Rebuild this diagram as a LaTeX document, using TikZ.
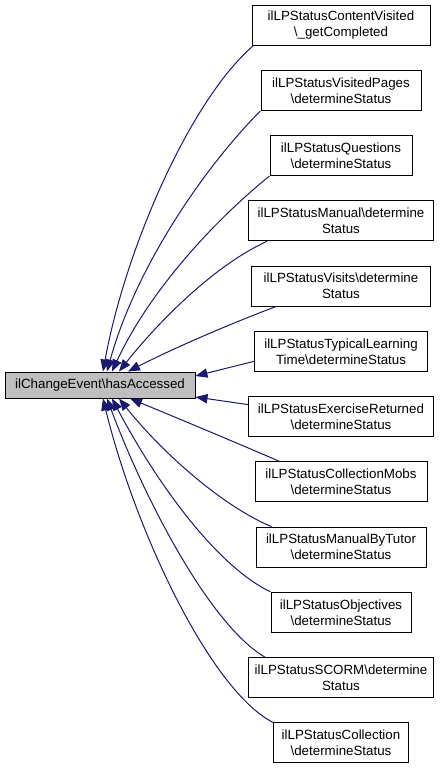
\documentclass[tikz,border=0pt]{standalone}
\usepackage{fontspec}
\setmainfont{Liberation Sans}
\usepackage{tikz}
\usetikzlibrary{arrows.meta,positioning,calc,shapes.geometric}
\definecolor{edgeblue}{HTML}{191970}
\definecolor{hlgrey}{HTML}{BFBFBF}
\newcommand{\bsl}{\textbackslash}
\tikzstyle{target} = [rectangle, minimum width=142.5pt, minimum height=19.5pt, inner sep=2pt, text centered, draw=black, line width=0.75pt, fill=hlgrey]
\tikzstyle{caller} = [rectangle, minimum height=30pt, inner sep=2pt, align=center, draw=black, line width=0.75pt, fill=white]
\tikzstyle{arrow} = [line width=0.75pt, draw=edgeblue, ->, >={Triangle[length=9pt,width=7pt]}]

\begin{document}
\begin{tikzpicture}[x=0.75pt, y=-0.75pt, node distance=48.95pt, font=\fontsize{10}{12}\selectfont]
\useasboundingbox (0,0) rectangle (443,771);
\node (he) [target] at (100,385) {ilChangeEvent\bsl hasAccessed};
\node (cv) [caller, minimum width=133.5pt] at (341,25) {ilLPStatusContentVisited\\\bsl\_getCompleted};
\node (vp) [caller, minimum width=120pt, below of=cv] {ilLPStatusVisitedPages\\\bsl determineStatus};
\node (qu) [caller, minimum width=106.5pt, below of=vp] {ilLPStatusQuestions\\\bsl determineStatus};
\node (ma) [caller, minimum width=138.75pt, below of=qu] {ilLPStatusManual\bsl determine\\Status};
\node (vi) [caller, minimum width=134.25pt, below of=ma] {ilLPStatusVisits\bsl determine\\Status};
\node (tl) [caller, minimum width=129.75pt, below of=vi] {ilLPStatusTypicalLearning\\Time\bsl determineStatus};
\node (er) [caller, minimum width=138.75pt, below of=tl] {ilLPStatusExerciseReturned\\\bsl determineStatus};
\node (cm) [caller, minimum width=129pt, below of=er] {ilLPStatusCollectionMobs\\\bsl determineStatus};
\node (mt) [caller, minimum width=127.5pt, below of=cm] {ilLPStatusManualByTutor\\\bsl determineStatus};
\node (ob) [caller, minimum width=105pt, below of=mt] {ilLPStatusObjectives\\\bsl determineStatus};
\node (sc) [caller, minimum width=138.75pt, below of=ob] {ilLPStatusSCORM\bsl determine\\Status};
\node (co) [caller, minimum width=101.25pt, below of=sc] {ilLPStatusCollection\\\bsl determineStatus};
\draw [arrow] ($(cv.south west)+(2,0)$) .. controls (190,100) and (125,250) .. ($(he.north)+(3,0)$);
\draw [arrow] (vp.south west) .. controls (201,171) and (135,270) .. ($(he.north)+(7,0)$);
\draw [arrow] (qu.south west) .. controls (215,220) and (150,290) .. ($(he.north)+(12,0)$);
\draw [arrow] ($(ma.south west)+(19,0)$) .. controls (215,265) and (160,320) .. ($(he.north)+(19,0)$);
\draw [arrow] ($(vi.south west)+(25,0)$) .. controls (240,320) and (180,345) .. ($(he.north)+(28,0)$);
\draw [arrow] ($(tl.west)+(0,10)$) -- ($(he.east)+(0,-9)$);
\draw [arrow] ($(er.west)+(0,-12)$) -- ($(he.east)+(0,12)$);
\draw [arrow] ($(cm.north west)+(25,0)$) .. controls (230,440) and (170,415) .. ($(he.south)+(30,0)$);
\draw [arrow] ($(mt.north west)+(16,0)$) .. controls (220,505) and (160,450) .. ($(he.south)+(19,0)$);
\draw [arrow] (ob.north west) .. controls (215,565) and (155,480) .. ($(he.south)+(12,0)$);
\draw [arrow] ($(sc.north west)+(17,0)$) .. controls (210,625) and (145,500) .. ($(he.south)+(7,0)$);
\draw [arrow] (co.north west) .. controls (210,690) and (135,530) .. ($(he.south)+(3,0)$);
\end{tikzpicture}
\end{document}
